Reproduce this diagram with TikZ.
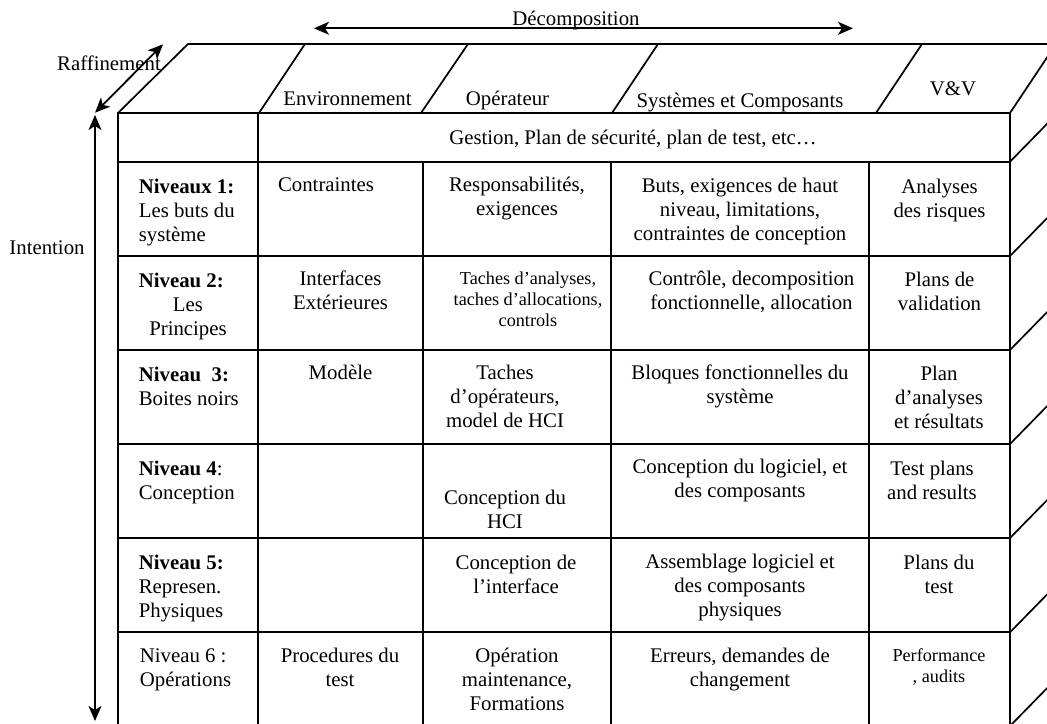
\documentclass[tikz,border=0pt]{standalone}
\usepackage{fontspec}
\setmainfont{Liberation Serif}
\usetikzlibrary{arrows.meta}
\begin{document}
\begin{tikzpicture}[x=1pt,y=-1pt, line width=1.7pt,
  txt/.style={inner sep=0pt, font=\fontsize{20.8}{24}\selectfont},
  cell/.style={txt, anchor=north, align=center},
  lcell/.style={txt, anchor=north west, align=left},
  small/.style={inner sep=0pt, anchor=north, align=center, font=\fontsize{18.2}{20.9}\selectfont},
  grid/.style={line width=1.7pt},
  dbl/.style={{Stealth[length=15pt,width=13pt,inset=4pt]}-{Stealth[length=15pt,width=13pt,inset=4pt]}, line width=1.8pt}]
\useasboundingbox (0,0) rectangle (1047,723);
\clip (0,0) rectangle (1047,723);

% ---- top face ----
\draw[grid] (118,113) -- (188,44) -- (1056,44);
\draw[grid] (259,113) -- (305,44);
\draw[grid] (421,113) -- (468,44);
\draw[grid] (612,113) -- (658,44);
\draw[grid] (876,113) -- (922,44);
\draw[grid] (1010,113) -- (1056,44);

% ---- front face ----
\draw[grid] (118,113) -- (1010,113) -- (1010,726) -- (118,726) -- cycle;
\foreach \y in {161.7,256,350,444,538,632.3}
  \draw[grid] (118,\y) -- (1010,\y);
\draw[grid] (258,113) -- (258,726);
\foreach \x in {423,611,869}
  \draw[grid] (\x,161.7) -- (\x,726);

% ---- right face ----
\foreach \y in {161.7,256,350,444,538,632.3,726}
  \draw[grid] (1010,\y) -- (1056,\y-47);

% ---- arrows ----
\coordinate (dL) at (314,28.3);
\coordinate (dR) at (853,28.3);
\coordinate (rA) at (95,112.7);
\coordinate (rB) at (163,44.3);
\coordinate (iA) at (95,115);
\coordinate (iB) at (95,721);
\draw[dbl] (dL) -- (dR);
\draw[dbl] (rA) -- (rB);
\draw[dbl] (iA) -- (iB);

\node[cell] (decomp) at (576,8) {\strut Décomposition};
\node[cell] (raff) at (109,53) {\strut Raffinement};
\node[cell] (intent) at (47,237) {\strut Intention};

% ---- headers ----
\node[cell] (henv) at (347.5,88) {\strut Environnement};
\node[cell] (hop) at (507.5,88) {\strut Opérateur};
\node[cell] (hsys) at (740,90) {\strut Systèmes et Composants};
\node[cell] (hvv) at (953,78) {\strut V\&V};
\node[cell] (gest) at (633,127) {\strut Gestion, Plan de sécurité, plan de test, etc…};

% ---- level column ----
\node[lcell] (n1) at (138,176) {\strut\textbf{Niveaux 1:}\\Les buts du\\système};
\node[lcell] (n2) at (138,270) {\strut\textbf{Niveau 2:}};
\node[cell] (n2b) at (188,294) {\strut Les\\Principes};
\node[lcell] (n3) at (138,364) {\strut\textbf{Niveau\ \ 3:}\\Boites noirs};
\node[lcell] (n4) at (138,458) {\strut\textbf{Niveau 4}:\\Conception};
\node[lcell] (n5) at (138,552) {\strut\textbf{Niveau 5:}\\Represen.\\Physiques};
\node[lcell] (n6) at (139,645) {\strut Niveau 6 :\\Opérations};

% ---- Environnement column ----
\node[cell] (e1) at (326,174) {\strut Contraintes};
\node[cell] (e2) at (340.5,268) {\strut Interfaces\\Extérieures};
\node[cell] (e3) at (340.5,362) {\strut Modèle};
\node[cell] (e6) at (340,645) {\strut Procedures du\\test};

% ---- Operateur column ----
\node[cell] (o1) at (517,174) {\strut Responsabilités,\\exigences};
\node[small] (o2) at (528,269) {\strut Taches d’analyses,\\taches d’allocations,\\controls};
\node[cell] (o3) at (505,362) {\strut Taches\\d’opérateurs,\\model de HCI};
\node[cell] (o4) at (505,487) {\strut Conception du\\HCI};
\node[cell] (o5) at (516,552) {\strut Conception de\\l’interface};
\node[cell] (o6) at (517,645) {\strut Opération\\maintenance,\\Formations};

% ---- Systemes column ----
\node[cell] (s1) at (740,175) {\strut Buts, exigences de haut\\niveau, limitations,\\contraintes de conception};
\node[cell] (s2) at (751.5,268) {\strut Contrôle, decomposition\\fonctionnelle, allocation};
\node[cell] (s3) at (740,362) {\strut Bloques fonctionnelles du\\système};
\node[cell] (s4) at (740,456) {\strut Conception du logiciel, et\\des composants};
\node[cell] (s5) at (740,551) {\strut Assemblage logiciel et\\des composants\\physiques};
\node[cell] (s6) at (740,645) {\strut Erreurs, demandes de\\changement};

% ---- V&V column ----
\node[cell] (v1) at (939.5,176) {\strut Analyses\\des risques};
\node[cell] (v2) at (939.5,269) {\strut Plans de\\validation};
\node[cell] (v3) at (939,363) {\strut Plan\\d’analyses\\et résultats};
\node[cell] (v4) at (932,458) {\strut Test plans\\and results};
\node[cell] (v5) at (939,552) {\strut Plans du\\test};
\node[small] (v6) at (939,646) {\strut Performance\\, audits};
\end{tikzpicture}
\end{document}
